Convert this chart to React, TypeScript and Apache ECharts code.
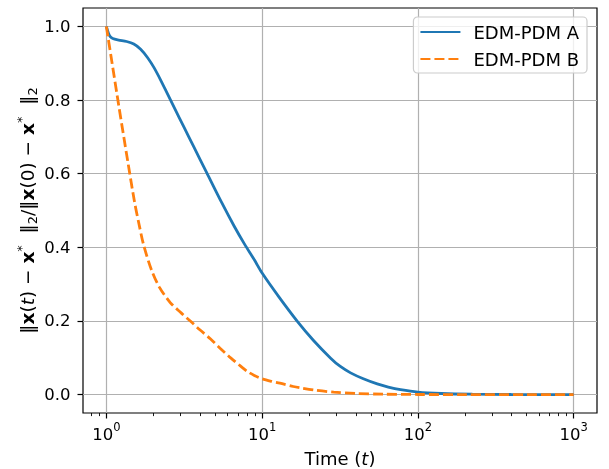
import React, { useEffect, useRef } from 'react';
import * as echarts from 'echarts';

const seriesNames = ['EDM-PDM A', 'EDM-PDM B'];

const timeA = [1, 1.03, 1.059, 1.099, 1.199, 1.349, 1.5, 1.66, 1.841, 2.023, 2.239, 2.46, 2.754, 3.162, 3.631, 4.406, 5.495, 6.607, 7.727, 8.913, 10, 12.88, 16.83, 21.38, 27.54, 31.62, 36.98, 44.67, 54.83, 64.57, 77.45, 100, 141.3, 223.9, 398.1, 1000];
const valuesA = [1.0, 0.982, 0.972, 0.967, 0.963, 0.959, 0.952, 0.938, 0.915, 0.888, 0.853, 0.818, 0.776, 0.725, 0.674, 0.603, 0.522, 0.458, 0.408, 0.366, 0.33, 0.264, 0.199, 0.147, 0.099, 0.077, 0.059, 0.043, 0.029, 0.0205, 0.0134, 0.0067, 0.003, 0.001, 0.0002, 0];

const timeB = [1, 1.202, 1.38, 1.514, 1.622, 1.738, 1.95, 2.188, 2.57, 3.02, 3.475, 3.981, 4.667, 5.37, 6.31, 7.244, 8.035, 8.913, 10, 11.48, 13.0, 15.85, 17.78, 21.88, 28.84, 39.8, 60.3, 100, 200, 500, 1000];
const valuesB = [1.0, 0.784, 0.627, 0.525, 0.462, 0.405, 0.338, 0.292, 0.25, 0.222, 0.199, 0.176, 0.151, 0.126, 0.099, 0.078, 0.063, 0.052, 0.043, 0.036, 0.031, 0.022, 0.018, 0.012, 0.0065, 0.003, 0.001, 0.0003, 0, 0, 0];

const xTickExponents = [0, 1, 2, 3];
const yTicks = [0, 0.2, 0.4, 0.6, 0.8, 1.0];

const FONT = 'DejaVu Sans';

export default function App() {
  const ref = useRef<HTMLDivElement>(null);

  useEffect(() => {
    if (!ref.current) return;
    const chart = echarts.init(ref.current, null, { renderer: 'svg' });

    const xMin = -0.15;
    const xMax = 3.15;
    const minorTicks: number[] = [];
    for (let n = -1; n <= 3; n++) {
      for (let k = 2; k <= 9; k++) {
        const v = Math.log10(k * Math.pow(10, n));
        if (v > xMin && v < xMax) minorTicks.push(v);
      }
    }

    const toData = (ts: number[], vs: number[]) => ts.map((t, i) => [Math.log10(t), vs[i]]);

    const option: any = {
      animation: false,
      textStyle: { fontFamily: FONT },
      grid: {
        left: 83,
        right: 12,
        top: 8,
        bottom: 56,
        show: true,
        borderColor: '#000',
        borderWidth: 1.2,
        backgroundColor: 'transparent',
      },
      legend: {
        orient: 'vertical',
        right: 22,
        top: 17,
        padding: [6, 8, 5, 6],
        itemGap: 9,
        itemWidth: 40,
        itemHeight: 14,
        backgroundColor: 'rgba(255,255,255,0.8)',
        borderColor: '#cccccc',
        borderWidth: 1.2,
        borderRadius: 4,
        itemStyle: { opacity: 0 },
        textStyle: { fontSize: 18, color: '#000', fontFamily: FONT, padding: [0, 0, 0, 8] },
        data: seriesNames,
      },
      xAxis: [
        {
          type: 'value',
          min: xMin,
          max: xMax,
          position: 'bottom',
          axisLine: { show: false, onZero: false },
          axisTick: { show: true, customValues: xTickExponents, length: 5.5, lineStyle: { color: '#000', width: 1.2 } },
          axisLabel: {
            customValues: xTickExponents,
            margin: 8,
            color: '#000',
            formatter: (v: number) => `{b|10}{s|${Math.round(v)}}`,
            rich: {
              b: { fontSize: 16.5, fontFamily: FONT, color: '#000', padding: [4, 0, 0, 0], lineHeight: 22 },
              s: { fontSize: 11.5, fontFamily: FONT, color: '#000', verticalAlign: 'top', lineHeight: 12 },
            },
          },
          splitLine: { show: true, lineStyle: { color: '#b0b0b0', width: 1.2 } },
        },
        {
          type: 'value',
          min: xMin,
          max: xMax,
          position: 'bottom',
          axisLine: { show: false, onZero: false },
          axisTick: { show: true, customValues: minorTicks, length: 3.1, lineStyle: { color: '#000', width: 0.9 } },
          axisLabel: { show: false },
          splitLine: { show: false },
        },
      ],
      yAxis: {
        type: 'value',
        min: -0.05,
        max: 1.05,
        position: 'left',
        axisLine: { show: false, onZero: false },
        axisTick: { show: true, customValues: yTicks, length: 5.5, lineStyle: { color: '#000', width: 1.2 } },
        axisLabel: {
          customValues: yTicks,
          margin: 12.5,
          fontSize: 16.5,
          color: '#000',
          fontFamily: FONT,
          formatter: (v: number) => v.toFixed(1),
        },
        splitLine: { show: true, lineStyle: { color: '#b0b0b0', width: 1.2 } },
      },
      series: [
        {
          name: seriesNames[0],
          type: 'line',
          xAxisIndex: 0,
          data: toData(timeA, valuesA),
          symbol: 'none',
          smooth: 0.3,
          lineStyle: { color: '#1f77b4', width: 2.8 },
          itemStyle: { color: '#1f77b4' },
        },
        {
          name: seriesNames[1],
          type: 'line',
          xAxisIndex: 0,
          data: toData(timeB, valuesB),
          symbol: 'none',
          smooth: 0.3,
          lineStyle: { color: '#ff7f0e', width: 2.8, type: [10, 4] },
          itemStyle: { color: '#ff7f0e' },
        },
      ],
      graphic: [
        {
          type: 'text',
          x: 340,
          y: 458,
          style: {
            text: '{n|Time (}{i|t}{n|)}',
            align: 'center',
            verticalAlign: 'middle',
            fill: '#000',
            rich: {
              n: { fontSize: 18, fontFamily: FONT, fill: '#000' },
              i: { fontSize: 18, fontFamily: FONT, fontStyle: 'italic', fill: '#000' },
            },
          },
        },
        {
          type: 'text',
          x: 27,
          y: 210.5,
          rotation: Math.PI / 2,
          style: {
            text:
              '{n|‖}{b|x}{n|(}{i|t}{n|) − }{b|x}{sp|*}{n|  ‖}{sb|2}{n|/‖}{b|x}{n|(0) − }{b|x}{sp|*}{n|  ‖}{sb|2}',
            align: 'center',
            verticalAlign: 'middle',
            fill: '#000',
            rich: {
              n: { fontSize: 18.5, fontFamily: FONT, fill: '#000', lineHeight: 24 },
              b: { fontSize: 18.5, fontFamily: FONT, fontWeight: 'bold', fill: '#000', lineHeight: 24 },
              i: { fontSize: 18.5, fontFamily: FONT, fontStyle: 'italic', fill: '#000', lineHeight: 24 },
              sp: { fontSize: 13, fontFamily: FONT, fill: '#000', verticalAlign: 'top', lineHeight: 13 },
              sb: { fontSize: 13, fontFamily: FONT, fill: '#000', verticalAlign: 'bottom', lineHeight: 13 },
            },
          },
        },
      ],
    };

    chart.setOption(option);
    return () => chart.dispose();
  }, []);

  return <div ref={ref} style={{ position: 'fixed', left: 0, top: 0, width: 609, height: 469 }} />;
}
